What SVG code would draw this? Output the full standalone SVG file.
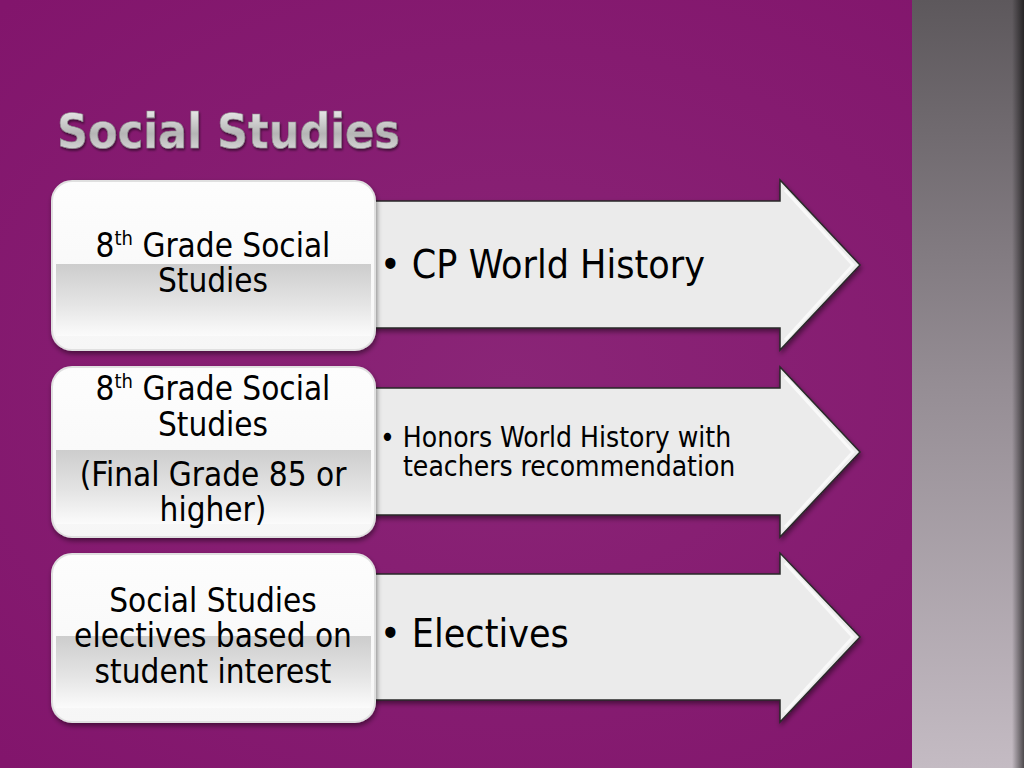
<svg xmlns="http://www.w3.org/2000/svg" width="1024" height="768" viewBox="0 0 1024 768">
<defs>
<radialGradient id="bg" cx="0.5" cy="0.5" r="0.7">
<stop offset="0" stop-color="#8a2577"/>
<stop offset="1" stop-color="#82156c"/>
</radialGradient>
<linearGradient id="strip" x1="0" y1="0" x2="0" y2="1">
<stop offset="0" stop-color="#5d585c"/>
<stop offset="0.5" stop-color="#958d94"/>
<stop offset="1" stop-color="#c4bbc3"/>
</linearGradient>
<linearGradient id="stripEdge" x1="0" y1="0" x2="1" y2="0">
<stop offset="0" stop-color="#000" stop-opacity="0"/>
<stop offset="1" stop-color="#000" stop-opacity="0.6"/>
</linearGradient>
<linearGradient id="title" x1="0" y1="0" x2="0" y2="1">
<stop offset="0" stop-color="#f6f6f6"/>
<stop offset="0.55" stop-color="#b5b5b5"/>
<stop offset="1" stop-color="#e8e8e8"/>
</linearGradient>
<linearGradient id="boxTop" x1="0" y1="0" x2="0" y2="1">
<stop offset="0" stop-color="#fdfdfd"/>
<stop offset="1" stop-color="#f6f6f6"/>
</linearGradient>
<linearGradient id="boxBot" x1="0" y1="0" x2="0" y2="1">
<stop offset="0" stop-color="#cdcdcd"/>
<stop offset="0.55" stop-color="#e4e4e4"/>
<stop offset="1" stop-color="#fbfbfb"/>
</linearGradient>
<filter id="sh" x="-10%" y="-10%" width="120%" height="125%">
<feDropShadow dx="1" dy="3" stdDeviation="2.5" flood-color="#000" flood-opacity="0.45"/>
</filter>
<filter id="tsh" x="-5%" y="-10%" width="110%" height="130%">
<feDropShadow dx="1" dy="2" stdDeviation="1" flood-color="#000" flood-opacity="0.5"/>
</filter>
</defs>
<style>
.box{fill:url(#boxTop);stroke:#e0e0e0;stroke-width:2}
.band{fill:url(#boxBot)}
.arrow{fill:#ebebeb;stroke:#2a2a2a;stroke-width:1.5;stroke-linejoin:miter}
.bevel{fill:none;stroke:#ffffff;stroke-width:3;stroke-opacity:0.7}
.bt{font-family:"DejaVu Sans Condensed","DejaVu Sans",sans-serif;font-size:33px;fill:#000;text-anchor:middle}
.at{font-family:"DejaVu Sans Condensed","DejaVu Sans",sans-serif;fill:#000}
.sup{font-size:20px}
</style>
<rect x="0" y="0" width="1024" height="768" fill="url(#bg)"/>
<g id="strip">
<rect x="912" y="0" width="112" height="768" fill="url(#strip)"/>
<rect x="1012" y="0" width="12" height="768" fill="url(#stripEdge)"/>
</g>
<g id="title">
<text x="57" y="148" font-family="DejaVu Sans Condensed, DejaVu Sans, sans-serif" font-weight="bold" font-size="48" fill="url(#title)" stroke="#8a8a8a" stroke-width="0.6" filter="url(#tsh)" textLength="343" lengthAdjust="spacingAndGlyphs">Social Studies</text>
</g>
<g id="connectors">
<g id="arrow1" filter="url(#sh)">
<path class="arrow" d="M360,201 H780 V180 L860,265 L780,350 V328 H360 Z"/>
<path class="bevel" d="M785,190 L853,265 L785,340"/>
</g>
<g id="arrow2" filter="url(#sh)">
<path class="arrow" d="M360,388 H780 V367 L860,452 L780,537 V515 H360 Z"/>
<path class="bevel" d="M785,377 L853,452 L785,527"/>
</g>
<g id="arrow3" filter="url(#sh)">
<path class="arrow" d="M360,574 H780 V553 L860,637 L780,722 V700 H360 Z"/>
<path class="bevel" d="M785,563 L853,637 L785,712"/>
</g>
</g>
<g id="node1">
<g filter="url(#sh)">
<rect class="box" x="52" y="181" width="323" height="169" rx="20"/>
</g>
<rect class="band" x="56" y="264" width="315" height="72"/>
<text class="bt" x="213" y="257">8<tspan class="sup" dy="-12">th</tspan><tspan dy="12"> Grade Social</tspan></text>
<text class="bt" x="213" y="292">Studies</text>
</g>
<g id="label1">
<text class="at" x="380" y="278" font-size="39">• CP World History</text>
</g>
<g id="node2">
<g filter="url(#sh)">
<rect class="box" x="52" y="367" width="323" height="170" rx="20"/>
</g>
<rect class="band" x="56" y="450" width="315" height="74"/>
<text class="bt" x="213" y="400">8<tspan class="sup" dy="-12">th</tspan><tspan dy="12"> Grade Social</tspan></text>
<text class="bt" x="213" y="436">Studies</text>
<text class="bt" x="213" y="486">(Final Grade 85 or</text>
<text class="bt" x="213" y="521">higher)</text>
</g>
<g id="label2">
<text class="at" x="380" y="447" font-size="28">• Honors World History with</text>
<text class="at" x="403" y="476" font-size="28">teachers recommendation</text>
</g>
<g id="node3">
<g filter="url(#sh)">
<rect class="box" x="52" y="554" width="323" height="168" rx="20"/>
</g>
<rect class="band" x="56" y="636" width="315" height="72"/>
<text class="bt" x="213" y="612">Social Studies</text>
<text class="bt" x="213" y="647">electives based on</text>
<text class="bt" x="213" y="683">student interest</text>
</g>
<g id="label3">
<text class="at" x="380" y="647" font-size="39">• Electives</text>
</g>
</svg>
